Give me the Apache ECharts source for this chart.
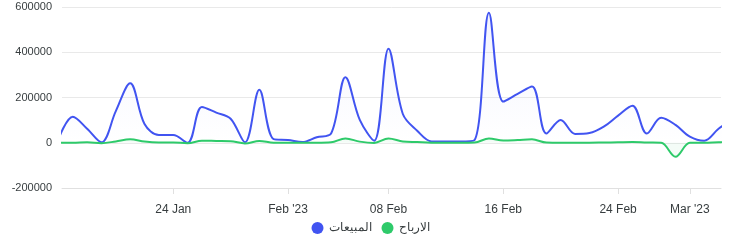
<!DOCTYPE html>
<html>
<head>
<meta charset="utf-8">
<script src="https://cdn.jsdelivr.net/npm/echarts@6/dist/echarts.min.js"></script>
<style>
html,body{margin:0;padding:0;background:#fff;}
#chart{width:741px;height:247px;}
</style>
</head>
<body>
<div id="chart"></div>
<script>
// Daily dates (Jan 16 .. Mar 4, 2023)
const dates = [
  '2023-01-16','2023-01-17','2023-01-18','2023-01-19','2023-01-20','2023-01-21','2023-01-22','2023-01-23',
  '2023-01-24','2023-01-25','2023-01-26','2023-01-27','2023-01-28','2023-01-29','2023-01-30','2023-01-31',
  '2023-02-01','2023-02-02','2023-02-03','2023-02-04','2023-02-05','2023-02-06','2023-02-07','2023-02-08',
  '2023-02-09','2023-02-10','2023-02-11','2023-02-12','2023-02-13','2023-02-14','2023-02-15','2023-02-16',
  '2023-02-17','2023-02-18','2023-02-19','2023-02-20','2023-02-21','2023-02-22','2023-02-23','2023-02-24',
  '2023-02-25','2023-02-26','2023-02-27','2023-02-28','2023-03-01','2023-03-02','2023-03-03','2023-03-04'
];
// المبيعات (sales)
const sales = [
  15000,115000,62000,2000,140000,263000,83000,34000,
  34000,0,158000,133000,106000,2000,234000,16000,
  12000,3000,24000,41000,290000,101000,9000,416000,
  127000,53000,6000,6000,5000,12000,575000,182000,
  216000,249000,41000,101000,39000,43000,71000,120000,
  164000,41000,110000,79000,27000,9000,62000,105000
];
// الارباح (profits)
const profits = [
  0,0,2000,-2000,6000,15000,5000,1000,
  1000,-2000,9000,8000,7000,-3000,8000,0,
  0,0,0,2000,19000,5000,-1000,19000,
  6000,3000,0,0,0,1000,19000,10000,
  12000,15000,1000,0,0,0,1000,2000,
  3000,1000,0,-62000,0,0,2000,3000
];
const seriesNames = ['المبيعات', 'الارباح'];
const tickDates = ['2023-01-24','2023-02-01','2023-02-08','2023-02-16','2023-02-24','2023-03-01'];
const tickLabels = ['24 Jan', "Feb '23", '08 Feb', '16 Feb', '24 Feb', "Mar '23"];
const yTicks = [-200000, 0, 200000, 400000, 600000];

function ts(s) { const p = s.split('-').map(Number); return Date.UTC(p[0], p[1]-1, p[2]); }
const DAY = 86400000;
const xMin = ts('2023-01-16') + 0.25 * DAY;
const xMax = ts('2023-03-03') + 0.17 * DAY;
const tickTs = tickDates.map(ts);

const chart = echarts.init(document.getElementById('chart'));
chart.setOption({
  animation: false,
  backgroundColor: '#fff',
  textStyle: { fontFamily: 'Liberation Sans, Arial, sans-serif' },
  grid: { left: 62, right: 20, top: 7, bottom: 59, containLabel: false },
  legend: {
    bottom: 8, left: 'center',
    icon: 'circle', itemWidth: 12, itemHeight: 12, itemGap: 10,
    textStyle: { color: '#373d3f', fontSize: 12, fontFamily: 'Liberation Sans, Arial, sans-serif' },
    data: seriesNames
  },
  xAxis: {
    type: 'value',
    min: xMin, max: xMax,
    axisLine: { show: true, onZero: false, lineStyle: { color: '#e0e0e0', width: 1 } },
    axisTick: { show: true, length: 6, customValues: tickTs, lineStyle: { color: '#e0e0e0' } },
    axisLabel: {
      customValues: tickTs,
      color: '#373d3f', fontSize: 12, margin: 16,
      formatter: function (v) { const i = tickTs.indexOf(v); return i >= 0 ? tickLabels[i] : ''; }
    },
    splitLine: { show: false }
  },
  yAxis: {
    type: 'value',
    min: yTicks[0], max: yTicks[yTicks.length-1], interval: 200000,
    axisLine: { show: false }, axisTick: { show: false },
    axisLabel: { color: '#373d3f', fontSize: 11, margin: 10, formatter: function (v) { return String(v); } },
    splitLine: { lineStyle: { color: '#e9e9e9', width: 1 } }
  },
  series: [
    {
      name: seriesNames[0], type: 'line', smooth: 0.35, symbol: 'none',
      lineStyle: { color: '#4154f1', width: 2 }, itemStyle: { color: '#4154f1' },
      areaStyle: { color: new echarts.graphic.LinearGradient(0,0,0,1,[{offset:0,color:'rgba(65,84,241,0.09)'},{offset:1,color:'rgba(65,84,241,0.0)'}]) },
      data: dates.map((d,i) => [ts(d), sales[i]]), z: 3
    },
    {
      name: seriesNames[1], type: 'line', smooth: 0.35, symbol: 'none',
      lineStyle: { color: '#2eca6a', width: 2 }, itemStyle: { color: '#2eca6a' },
      areaStyle: { color: 'rgba(46,202,106,0.08)' },
      data: dates.map((d,i) => [ts(d), profits[i]]), z: 4
    }
  ]
});
</script>
</body>
</html>
